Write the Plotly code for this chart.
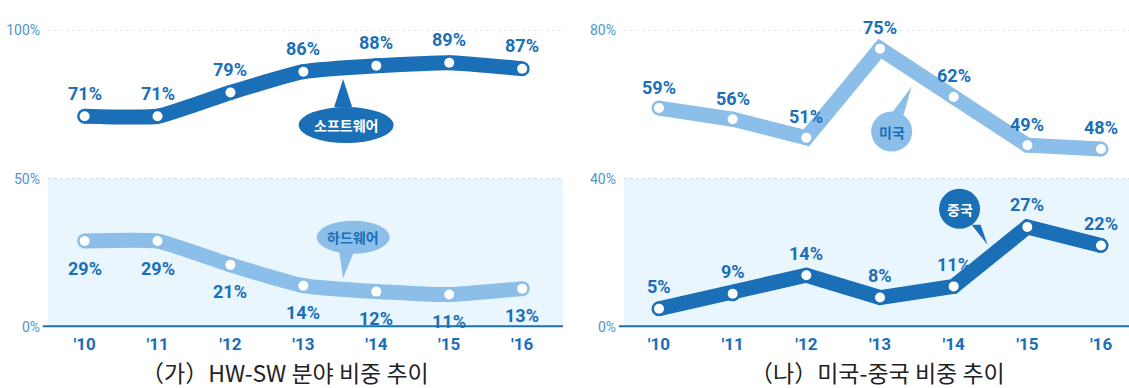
import plotly.graph_objects as go

W, H = 1129, 388

years = ["'10", "'11", "'12", "'13", "'14", "'15", "'16"]
software = [71, 71, 79, 86, 88, 89, 87]
hardware = [29, 29, 21, 14, 12, 11, 13]
usa = [59, 56, 51, 75, 62, 49, 48]
china = [5, 9, 14, 8, 11, 27, 22]

left_ticks = [0, 50, 100]
right_ticks = [0, 40, 80]

DARK = "#1b6fb7"
LIGHT = "#8bbee8"
BAND = "#eaf6fd"
TICK = "#4d95cf"
NUM_FONT = "Roboto, sans-serif"
KR_FONT = "Noto Sans CJK KR, sans-serif"

xi = list(range(len(years)))

fig = go.Figure()


def add_series(values, color, xa, ya, spline):
    # thick band line, round end caps, white dots
    fig.add_trace(go.Scatter(
        x=xi, y=values, mode="lines", xaxis=xa, yaxis=ya,
        line=dict(color=color, width=15, shape="spline" if spline else "linear",
                  smoothing=0.45),
        hoverinfo="skip", showlegend=False))
    fig.add_trace(go.Scatter(
        x=xi, y=values, mode="markers", xaxis=xa, yaxis=ya,
        marker=dict(color=color, size=15, line=dict(width=0)),
        hoverinfo="skip", showlegend=False))
    fig.add_trace(go.Scatter(
        x=xi, y=values, mode="markers", xaxis=xa, yaxis=ya,
        marker=dict(color="white", size=10, line=dict(width=0)),
        hoverinfo="skip", showlegend=False))


add_series(software, DARK, "x", "y", True)
add_series(hardware, LIGHT, "x", "y", True)
add_series(usa, LIGHT, "x2", "y2", False)
add_series(china, DARK, "x2", "y2", False)

annotations = []


def add_labels(values, xref, yref, shift):
    for i, v in enumerate(values):
        annotations.append(dict(
            x=i, y=v, xref=xref, yref=yref, text=f"{v}%", showarrow=False,
            yshift=shift, font=dict(family=NUM_FONT, size=18, color=DARK, weight="bold")))


add_labels(software, "x", "y", 23)
add_labels(hardware, "x", "y", -27)
add_labels(usa, "x2", "y2", 21)
add_labels(china, "x2", "y2", 22)

shapes = []


def band(xref, yref, top, full):
    shapes.append(dict(type="rect", xref=f"{xref} domain", yref=yref, x0=0, x1=1,
                       y0=0, y1=top, fillcolor=BAND, line=dict(width=0), layer="below"))
    for v in (top, full):
        shapes.append(dict(type="line", xref=f"{xref} domain", yref=yref, x0=0, x1=1,
                           y0=v, y1=v, line=dict(color="#cfd8e0", width=1, dash="dot"),
                           layer="below"))
    shapes.append(dict(type="line", xref=f"{xref} domain", yref=yref, x0=-0.01, x1=1,
                       y0=0, y1=0, line=dict(color=DARK, width=4)))


band("x", "y", 50, 100)
band("x2", "y2", 40, 80)


def callout(text, xref, yref, tx, ty, dx, dy, w, h, base, fill, tcolor):
    shapes.append(dict(type="path", xref=xref, yref=yref, xsizemode="pixel",
                       ysizemode="pixel", xanchor=tx, yanchor=ty,
                       path=f"M {base[0]},{base[2]} L {base[1]},{base[2]} L 0,0 Z",
                       fillcolor=fill, line=dict(width=0)))
    shapes.append(dict(type="circle", xref=xref, yref=yref, xsizemode="pixel",
                       ysizemode="pixel", xanchor=tx, yanchor=ty,
                       x0=dx - w / 2, x1=dx + w / 2, y0=dy - h / 2, y1=dy + h / 2,
                       fillcolor=fill, line=dict(width=0)))
    annotations.append(dict(x=tx, y=ty, xref=xref, yref=yref, xshift=dx, yshift=dy,
                            text=text, showarrow=False,
                            font=dict(family=KR_FONT, size=14, color=tcolor, weight="bold")))


callout("소프트웨어", "x", "y", 3.545, 83.5, 3, -46, 95, 36, (-9, 9, -28), DARK, "white")
callout("하드웨어", "x", "y", 3.545, 16.5, 10, 41, 73, 33, (-4, 11, 27), LIGHT, DARK)
callout("미국", "x2", "y2", 3.43, 64.8, -20, -45, 41, 40, (-21, -8, -28), LIGHT, DARK)
callout("중국", "x2", "y2", 4.46, 22.2, -28, 36, 41, 40, (-16, -7, 20), DARK, "white")

for cx, title in ((285, "（가）HW-SW 분야 비중 추이"), (877, "（나）미국-중국 비중 추이")):
    annotations.append(dict(x=cx / W, y=(H - 380) / H, xref="paper", yref="paper",
                            text=title, showarrow=False, xanchor="center", yanchor="middle",
                            font=dict(family=KR_FONT, size=23, color="#222222")))

ydom = [55 / H, 365 / H]
xaxis_common = dict(tickmode="array", tickvals=xi, ticktext=years, showgrid=False,
                    zeroline=False, showline=False, ticks="", fixedrange=True,
                    ticklabelstandoff=5,
                    tickfont=dict(family=NUM_FONT, size=17, color=DARK, weight="bold"))
yaxis_common = dict(showgrid=False, zeroline=False, showline=False, ticks="",
                    fixedrange=True, ticklabelstandoff=7,
                    tickfont=dict(family=NUM_FONT, size=14, color=TICK))

fig.update_layout(
    width=W, height=H, margin=dict(l=0, r=0, t=0, b=0),
    paper_bgcolor="white", plot_bgcolor="rgba(0,0,0,0)", showlegend=False,
    xaxis=dict(domain=[48 / W, 563 / W], range=[-0.502, 6.56], anchor="y", **xaxis_common),
    xaxis2=dict(domain=[624 / W, 1.0], range=[-0.475, 6.38], anchor="y2", **xaxis_common),
    yaxis=dict(domain=ydom, range=[0, 100], anchor="x", tickvals=left_ticks,
               ticktext=[f"{v}%" for v in left_ticks], **yaxis_common),
    yaxis2=dict(domain=ydom, range=[0, 80], anchor="x2", tickvals=right_ticks,
                ticktext=[f"{v}%" for v in right_ticks], **yaxis_common),
    shapes=shapes, annotations=annotations,
)

fig.write_html("out.html")
